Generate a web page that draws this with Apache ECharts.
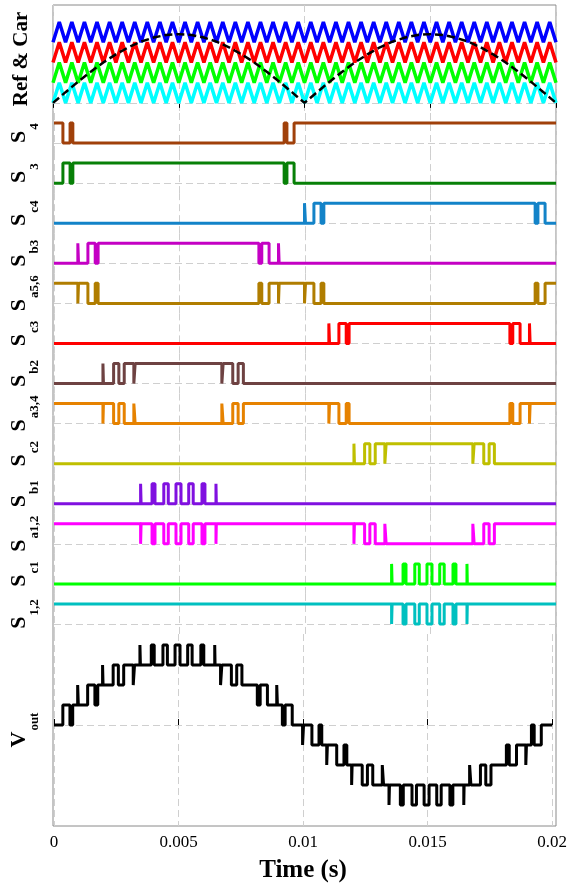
<!DOCTYPE html>
<html><head><meta charset="utf-8">
<script src="https://cdn.jsdelivr.net/npm/echarts@6/dist/echarts.min.js"></script>
<style>html,body{margin:0;padding:0;background:#fff}#c{width:570px;height:885px}</style>
</head><body><div id="c"></div>
<script>
// ---------- data ----------
const xTickLabels = ['0', '0.005', '0.01', '0.015', '0.02'];

// carrier triangle vertices (s) and unit shape (0 = trough, 1 = peak)
const carrierTimes = [0,0.00025,0.0005,0.00075,0.001,0.00125,0.0015,0.00175,0.002,0.00225,0.0025,0.00275,0.003,0.00325,0.0035,0.00375,0.004,0.00425,0.0045,0.00475,0.005,0.00525,0.0055,0.00575,0.006,0.00625,0.0065,0.00675,0.007,0.00725,0.0075,0.00775,0.008,0.00825,0.0085,0.00875,0.009,0.00925,0.0095,0.00975,0.01,0.01025,0.0105,0.01075,0.011,0.01125,0.0115,0.01175,0.012,0.01225,0.0125,0.01275,0.013,0.01325,0.0135,0.01375,0.014,0.01425,0.0145,0.01475,0.015,0.01525,0.0155,0.01575,0.016,0.01625,0.0165,0.01675,0.017,0.01725,0.0175,0.01775,0.018,0.01825,0.0185,0.01875,0.019,0.01925,0.0195,0.01975,0.02];
const carrierShape = [0,1,0,1,0,1,0,1,0,1,0,1,0,1,0,1,0,1,0,1,0,1,0,1,0,1,0,1,0,1,0,1,0,1,0,1,0,1,0,1,0,1,0,1,0,1,0,1,0,1,0,1,0,1,0,1,0,1,0,1,0,1,0,1,0,1,0,1,0,1,0,1,0,1,0,1,0,1,0,1,0];
const carrierNames = ['blue', 'red', 'green', 'cyan'];
const carrierBase = [3, 2, 1, 0];

// rectified sine reference
const refTimes = [0,0.0005,0.001,0.0015,0.002,0.0025,0.003,0.0035,0.004,0.0045,0.005,0.0055,0.006,0.0065,0.007,0.0075,0.008,0.0085,0.009,0.0095,0.01,0.0105,0.011,0.0115,0.012,0.0125,0.013,0.0135,0.014,0.0145,0.015,0.0155,0.016,0.0165,0.017,0.0175,0.018,0.0185,0.019,0.0195,0.02];
const refValues = [0,0.53,1.05,1.54,2.0,2.4,2.75,3.03,3.23,3.36,3.4,3.36,3.23,3.03,2.75,2.4,2.0,1.54,1.05,0.53,0,0.53,1.05,1.54,2.0,2.4,2.75,3.03,3.23,3.36,3.4,3.36,3.23,3.03,2.75,2.4,2.0,1.54,1.05,0.53,0];

// switching signals: initial state + toggle times (s)
const initS4 = 1;
const edgesS4 = [0.000355,0.00064,0.000751,0.009169,0.00928,0.009565];
const initS3 = 0;
const edgesS3 = [0.000355,0.00064,0.000751,0.009169,0.00928,0.009565];
const initSc4 = 0;
const edgesSc4 = [0.00998,0.01002,0.010355,0.01064,0.010751,0.019169,0.01928,0.019565];
const initSb3 = 0;
const edgesSb3 = [0.00095,0.000977,0.001351,0.001642,0.001757,0.008163,0.008278,0.008569,0.008943,0.00897];
const initSa56 = 1;
const edgesSa56 = [0.00095,0.000977,0.001351,0.001642,0.001757,0.008163,0.008278,0.008569,0.008943,0.00897,0.00998,0.01002,0.010355,0.01064,0.010751,0.019169,0.01928,0.019565];
const initSc3 = 0;
const edgesSc3 = [0.01095,0.010977,0.011351,0.011642,0.011757,0.018163,0.018278,0.018569,0.018943,0.01897];
const initSb2 = 0;
const edgesSb2 = [0.00195,0.00197,0.002375,0.002584,0.002798,0.003181,0.003233,0.006687,0.006739,0.007122,0.007336,0.007545];
const initSa34 = 1;
const edgesSa34 = [0.00195,0.00197,0.002375,0.002584,0.002798,0.003181,0.003233,0.006687,0.006739,0.007122,0.007336,0.007545,0.01095,0.010977,0.011351,0.011642,0.011757,0.018163,0.018278,0.018569,0.018943,0.01897];
const initSc2 = 0;
const edgesSc2 = [0.01195,0.01197,0.012375,0.012584,0.012798,0.013181,0.013233,0.016687,0.016739,0.017122,0.017336,0.017545];
const initSb1 = 0;
const edgesSb1 = [0.00345,0.00347,0.003906,0.004024,0.004374,0.004553,0.00486,0.00506,0.005367,0.005546,0.005896,0.006014,0.006453,0.006467];
const initSa12 = 1;
const edgesSa12 = [0.00345,0.00347,0.003906,0.004024,0.004374,0.004553,0.00486,0.00506,0.005367,0.005546,0.005896,0.006014,0.006453,0.006467,0.01195,0.01197,0.012375,0.012584,0.012798,0.013181,0.013233,0.016687,0.016739,0.017122,0.017336,0.017545];
const initSc1 = 0;
const edgesSc1 = [0.01345,0.01347,0.013906,0.014024,0.014374,0.014553,0.01486,0.01506,0.015367,0.015546,0.015896,0.016014,0.016453,0.016467];
const initS12 = 1;
const edgesS12 = [0.01345,0.01347,0.013906,0.014024,0.014374,0.014553,0.01486,0.01506,0.015367,0.015546,0.015896,0.016014,0.016453,0.016467];

// output voltage: level changes (s) and level after each change
const voutTimes = [0,0.000355,0.00064,0.000751,0.00095,0.000977,0.001351,0.001642,0.001757,0.00195,0.00197,0.002375,0.002584,0.002798,0.003181,0.003233,0.00345,0.00347,0.003906,0.004024,0.004374,0.004553,0.00486,0.00506,0.005367,0.005546,0.005896,0.006014,0.006453,0.006467,0.006687,0.006739,0.007122,0.007336,0.007545,0.008163,0.008278,0.008569,0.008943,0.00897,0.009169,0.00928,0.009565,0.00998,0.01002,0.010355,0.01064,0.010751,0.01095,0.010977,0.011351,0.011642,0.011757,0.01195,0.01197,0.012375,0.012584,0.012798,0.013181,0.013233,0.01345,0.01347,0.013906,0.014024,0.014374,0.014553,0.01486,0.01506,0.015367,0.015546,0.015896,0.016014,0.016453,0.016467,0.016687,0.016739,0.017122,0.017336,0.017545,0.018163,0.018278,0.018569,0.018943,0.01897,0.019169,0.01928,0.019565,0.02];
const voutLevels = [0,1,0,1,2,1,2,1,2,3,2,3,2,3,2,3,4,3,4,3,4,3,4,3,4,3,4,3,4,3,2,3,2,3,2,1,2,1,2,1,0,1,0,-1,0,-1,0,-1,-2,-1,-2,-1,-2,-3,-2,-3,-2,-3,-2,-3,-4,-3,-4,-3,-4,-3,-4,-3,-4,-3,-4,-3,-4,-3,-2,-3,-2,-3,-2,-1,-2,-1,-2,-1,0,-1,0,0];

// ---------- styling / layout ----------
const SERIF = 'Liberation Serif';
const GRID_L = 53, GRID_R = 14;
const BAND_TOP0 = 113, BAND_H = 40.08;
const gridColor = '#cfcfcf';
const dash = [7, 4];

const bands = [
  {sub:'4',    color:'#A0400A', init:initS4,   edges:edgesS4},
  {sub:'3',    color:'#078007', init:initS3,   edges:edgesS3},
  {sub:'c4',   color:'#1383C8', init:initSc4,  edges:edgesSc4},
  {sub:'b3',   color:'#C400C4', init:initSb3,  edges:edgesSb3},
  {sub:'a5,6', color:'#B07D00', init:initSa56, edges:edgesSa56},
  {sub:'c3',   color:'#FF0000', init:initSc3,  edges:edgesSc3},
  {sub:'b2',   color:'#6E4242', init:initSb2,  edges:edgesSb2},
  {sub:'a3,4', color:'#E68200', init:initSa34, edges:edgesSa34},
  {sub:'c2',   color:'#BFBF00', init:initSc2,  edges:edgesSc2},
  {sub:'b1',   color:'#8010E0', init:initSb1,  edges:edgesSb1},
  {sub:'a1,2', color:'#FF00FF', init:initSa12, edges:edgesSa12},
  {sub:'c1',   color:'#00FF00', init:initSc1,  edges:edgesSc1},
  {sub:'1,2',  color:'#00C0C0', init:initS12,  edges:edgesS12}
];
const carrierColors = {blue:'#0000FF', red:'#FF0000', green:'#00FF00', cyan:'#00FFFF'};

function stepData(init, edges) {
  const d = [[0, init]];
  let s = init;
  edges.forEach(t => { s = 1 - s; d.push([t, s]); });
  d.push([0.02, s]);
  return d;
}

const richLabel = {
  s:   {fontFamily:SERIF, fontWeight:'bold', fontSize:22, color:'#000', verticalAlign:'top', lineHeight:22},
  sub: {fontFamily:SERIF, fontWeight:'bold', fontSize:13, color:'#000', verticalAlign:'top', lineHeight:13, padding:[20,0,0,1]}
};

function baseX(idx, extra) {
  return Object.assign({
    type:'value', gridIndex:idx, min:0, max:0.02, interval:0.005,
    axisLine:{show:false}, axisTick:{show:false}, axisLabel:{show:false},
    splitLine:{show:true, lineStyle:{color:gridColor, type:dash, width:1}}
  }, extra || {});
}
function baseY(idx, min, max, name, nameStyle, gap) {
  return {
    type:'value', gridIndex:idx, min:min, max:max,
    axisLine:{show:false}, axisTick:{show:false}, axisLabel:{show:false}, splitLine:{show:false},
    name:name, nameLocation:'middle', nameRotate:90, nameGap:gap, nameTextStyle:nameStyle
  };
}
function zeroLine() {
  return {silent:true, symbol:'none', z:1, label:{show:false},
          lineStyle:{color:gridColor, type:dash, width:1}, data:[{yAxis:0}]};
}

const grids = [], xAxes = [], yAxes = [], series = [];

// Ref & Car panel
grids.push({left:GRID_L, right:GRID_R, top:5, height:108});
xAxes.push(baseX(0, {position:'top', axisTick:{show:true, inside:true, length:5, lineStyle:{color:'#000'}}}));
yAxes.push(baseY(0, -0.5, 4.84, 'Ref & Car',
  {fontFamily:SERIF, fontWeight:'bold', fontSize:21, color:'#000'}, 21));
carrierNames.forEach((n, k) => {
  series.push({type:'line', xAxisIndex:0, yAxisIndex:0, symbol:'none', silent:true, z:2,
    lineStyle:{color:carrierColors[n], width:3.5}, itemStyle:{color:carrierColors[n]},
    data: carrierTimes.map((t, i) => [t, carrierBase[k] + carrierShape[i]]),
    markLine: k === 0 ? zeroLine() : undefined});
});
series.push({type:'line', xAxisIndex:0, yAxisIndex:0, symbol:'none', silent:true, z:4,
  lineStyle:{color:'#000', width:2.5, type:[8,4]},
  data: refTimes.map((t, i) => [t, refValues[i]])});

// switching bands
bands.forEach((b, i) => {
  const gi = i + 1;
  grids.push({left:GRID_L, right:GRID_R, top:BAND_TOP0 + BAND_H * i, height:BAND_H});
  xAxes.push(baseX(gi));
  yAxes.push(baseY(gi, -0.5, 1.5, '{s|S}{sub|' + b.sub + '}', {rich:richLabel}, 24));
  series.push({type:'line', xAxisIndex:gi, yAxisIndex:gi, step:'end', symbol:'none', silent:true, z:2,
    lineStyle:{color:b.color, width:3}, itemStyle:{color:b.color},
    data: stepData(b.init, b.edges), markLine: zeroLine()});
});

// Vout panel
const vi = bands.length + 1;
grids.push({left:GRID_L, right:GRID_R, top:BAND_TOP0 + BAND_H * bands.length, bottom:59});
xAxes.push(baseX(vi, {
  axisTick:{show:true, inside:true, length:6, lineStyle:{color:'#000'}},
  axisLabel:{show:true, fontFamily:SERIF, fontSize:17, color:'#000', margin:8,
             formatter: (v) => xTickLabels[Math.round(v / 0.005)]},
  name:'Time (s)', nameLocation:'middle', nameGap:32,
  nameTextStyle:{fontFamily:SERIF, fontWeight:'bold', fontSize:25, color:'#000'}
}));
yAxes.push(baseY(vi, -5.05, 4.55, '{s|V}{sub|out}', {rich:richLabel}, 24));
series.push({type:'line', xAxisIndex:vi, yAxisIndex:vi, step:'end', symbol:'none', silent:true, z:2,
  lineStyle:{color:'#000', width:3}, itemStyle:{color:'#000'},
  data: voutTimes.map((t, i) => [t, voutLevels[i]]), markLine: zeroLine()});

// outer frame
const fi = vi + 1;
grids.push({left:GRID_L, right:GRID_R, top:5, bottom:59, show:true, borderColor:'#8a8a8a', borderWidth:1, backgroundColor:'transparent'});
xAxes.push({type:'value', gridIndex:fi, show:false, min:0, max:1});
yAxes.push({type:'value', gridIndex:fi, show:false, min:0, max:1});

const chart = echarts.init(document.getElementById('c'), null, {renderer:'canvas'});
chart.setOption({animation:false, backgroundColor:'#fff', grid:grids, xAxis:xAxes, yAxis:yAxes, series:series});
</script></body></html>
